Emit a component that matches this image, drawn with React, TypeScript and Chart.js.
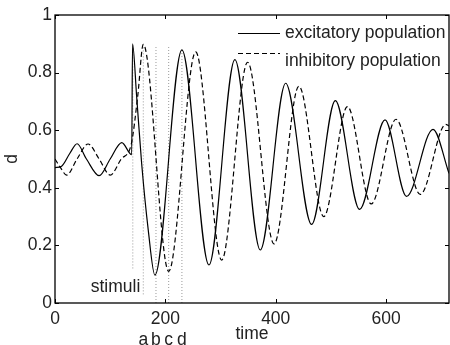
import React, { useEffect, useRef } from 'react';
import { Chart, registerables } from 'chart.js';

Chart.register(...registerables);

// ---- data ----
const excTime = [0, 12, 27, 40, 57, 80, 100, 121, 139, 140.5, 148, 157, 169, 181, 230, 279, 326, 372, 418, 465, 508, 552, 598, 637, 685, 714];
const excValue = [0.47, 0.475, 0.52, 0.553, 0.5, 0.442, 0.5, 0.557, 0.515, 0.9, 0.716, 0.485, 0.253, 0.097, 0.879, 0.132, 0.845, 0.184, 0.763, 0.273, 0.703, 0.325, 0.636, 0.37, 0.603, 0.45];

const inhTime = [0, 10, 21, 40, 60, 80, 100, 120, 138, 150, 160, 206, 255, 302, 349, 397, 442, 487, 530, 573, 618, 662, 708, 714];
const inhValue = [0.5, 0.47, 0.444, 0.5, 0.552, 0.5, 0.444, 0.5, 0.55, 0.72, 0.898, 0.11, 0.872, 0.149, 0.836, 0.205, 0.753, 0.3, 0.682, 0.344, 0.638, 0.377, 0.62, 0.615];

const stimTime = [141, 160, 183, 206, 230];
const stimTop = [0.9, 0.9, 0.89, 0.89, 0.88];
const stimBottom = [0.12, 0.03, 0, 0, 0];
const stimLetters = ['', 'a', 'b', 'c', 'd'];
const stimText = 'stimuli';

const xTicks = [0, 200, 400, 600];
const xTickLabels = ['0', '200', '400', '600'];
const yTicks = [0, 0.2, 0.4, 0.6, 0.8, 1];
const yTickLabels = ['0', '0.2', '0.4', '0.6', '0.8', '1'];
const seriesLabels = ['excitatory population', 'inhibitory population'];
const xTitle = 'time';
const yTitle = 'd';
const X_MIN = 0;
const X_MAX = 714;
const Y_MIN = 0;
const Y_MAX = 1;

const FONT = '"Liberation Sans", Arial, Helvetica, sans-serif';
const FS = 17.5;
const TEXT = '#222';
const DASH = [5, 3];

const decor = {
  id: 'decor',
  afterDatasetsDraw(chart: any) {
    const { ctx, chartArea: a, scales } = chart;
    const x = scales.x;
    const y = scales.y;
    ctx.save();
    // tick marks (inward, on all four sides)
    ctx.strokeStyle = '#000';
    ctx.lineWidth = 1;
    ctx.setLineDash([]);
    const tl = 4;
    ctx.beginPath();
    xTicks.forEach((v) => {
      const px = Math.round(x.getPixelForValue(v)) + 0.5;
      ctx.moveTo(px, a.bottom);
      ctx.lineTo(px, a.bottom - tl);
      ctx.moveTo(px, a.top);
      ctx.lineTo(px, a.top + tl);
    });
    yTicks.forEach((v) => {
      const py = Math.round(y.getPixelForValue(v)) + 0.5;
      ctx.moveTo(a.left, py);
      ctx.lineTo(a.left + tl, py);
      ctx.moveTo(a.right, py);
      ctx.lineTo(a.right - tl, py);
    });
    ctx.stroke();
    // box
    ctx.lineWidth = 1.3;
    ctx.strokeRect(a.left, a.top, a.right - a.left, a.bottom - a.top);

    // legend
    ctx.font = `${FS}px ${FONT}`;
    ctx.fillStyle = TEXT;
    ctx.textBaseline = 'middle';
    ctx.textAlign = 'left';
    const lx0 = a.left + 183;
    const lx1 = a.left + 225;
    const tx = a.left + 230;
    const rows = [
      { ly: a.top + 18.5, ty: a.top + 18, dash: [] as number[] },
      { ly: a.top + 38.5, ty: a.top + 46, dash: DASH },
    ];
    rows.forEach((r, i) => {
      ctx.strokeStyle = '#000';
      ctx.lineWidth = 1.1;
      ctx.setLineDash(r.dash);
      ctx.beginPath();
      ctx.moveTo(lx0, r.ly);
      ctx.lineTo(lx1, r.ly);
      ctx.stroke();
      ctx.setLineDash([]);
      ctx.fillText(seriesLabels[i], tx, r.ty);
    });

    // stimuli labels
    ctx.textAlign = 'right';
    ctx.fillText(stimText, x.getPixelForValue(stimTime[1]) - 3, y.getPixelForValue(0.055));
    ctx.textAlign = 'center';
    stimLetters.forEach((s, i) => {
      if (!s) return;
      ctx.fillText(s, x.getPixelForValue(stimTime[i]), a.bottom + 37);
    });
    ctx.restore();
  },
};

export default function App() {
  const ref = useRef<HTMLCanvasElement | null>(null);
  useEffect(() => {
    document.body.style.margin = '0';
    const canvas = ref.current;
    if (!canvas) return;
    const stimSets = stimTime.map((t, i) => ({
      label: 'stim' + i,
      data: [
        { x: t, y: stimBottom[i] },
        { x: t, y: stimTop[i] },
      ],
      borderColor: '#9a9a9a',
      borderWidth: 1,
      borderDash: [1, 2],
      pointRadius: 0,
      order: 10,
    }));
    const chart = new Chart(canvas, {
      type: 'line',
      data: {
        datasets: [
          {
            label: seriesLabels[0],
            data: excTime.map((t, i) => ({ x: t, y: excValue[i] })),
            borderColor: '#000',
            borderWidth: 1.2,
            pointRadius: 0,
            cubicInterpolationMode: 'monotone',
            order: 0,
          },
          {
            label: seriesLabels[1],
            data: inhTime.map((t, i) => ({ x: t, y: inhValue[i] })),
            borderColor: '#000',
            borderWidth: 1.2,
            borderDash: DASH,
            pointRadius: 0,
            cubicInterpolationMode: 'monotone',
            order: 1,
          },
          ...stimSets,
        ] as any,
      },
      options: {
        animation: false,
        responsive: false,
        devicePixelRatio: 1,
        layout: { padding: { top: 15, right: 1, left: 0, bottom: 0 } },
        plugins: { legend: { display: false }, tooltip: { enabled: false } },
        events: [],
        scales: {
          x: {
            type: 'linear',
            min: X_MIN,
            max: X_MAX,
            grid: { display: false, drawTicks: false },
            border: { display: false },
            afterBuildTicks: (s: any) => {
              s.ticks = xTicks.map((v) => ({ value: v }));
            },
            afterFit: (s: any) => {
              s.height = 42;
            },
            ticks: {
              padding: 6,
              maxRotation: 0,
              autoSkip: false,
              color: TEXT,
              font: { family: FONT, size: FS },
              callback: (v: any) => {
                const i = xTicks.indexOf(Number(v));
                return i >= 0 ? xTickLabels[i] : '';
              },
            },
            title: {
              display: true,
              text: xTitle,
              color: TEXT,
              font: { family: FONT, size: FS },
              padding: { top: 0, bottom: 0 },
            },
          },
          y: {
            type: 'linear',
            min: Y_MIN,
            max: Y_MAX,
            grid: { display: false, drawTicks: false },
            border: { display: false },
            afterBuildTicks: (s: any) => {
              s.ticks = yTicks.map((v) => ({ value: v }));
            },
            afterFit: (s: any) => {
              s.width = 55;
            },
            ticks: {
              padding: 3,
              autoSkip: false,
              color: TEXT,
              font: { family: FONT, size: FS },
              callback: (v: any) => {
                const i = yTicks.indexOf(Number(v));
                return i >= 0 ? yTickLabels[i] : '';
              },
            },
            title: {
              display: true,
              text: yTitle,
              color: TEXT,
              font: { family: FONT, size: FS },
              padding: { top: 2, bottom: 0 },
            },
          },
        },
      },
      plugins: [decor],
    } as any);
    return () => chart.destroy();
  }, []);
  return (
    <div style={{ position: 'absolute', left: 0, top: 0, width: 450, height: 345, background: '#fff' }}>
      <canvas ref={ref} width={450} height={345} style={{ display: 'block' }} />
    </div>
  );
}
